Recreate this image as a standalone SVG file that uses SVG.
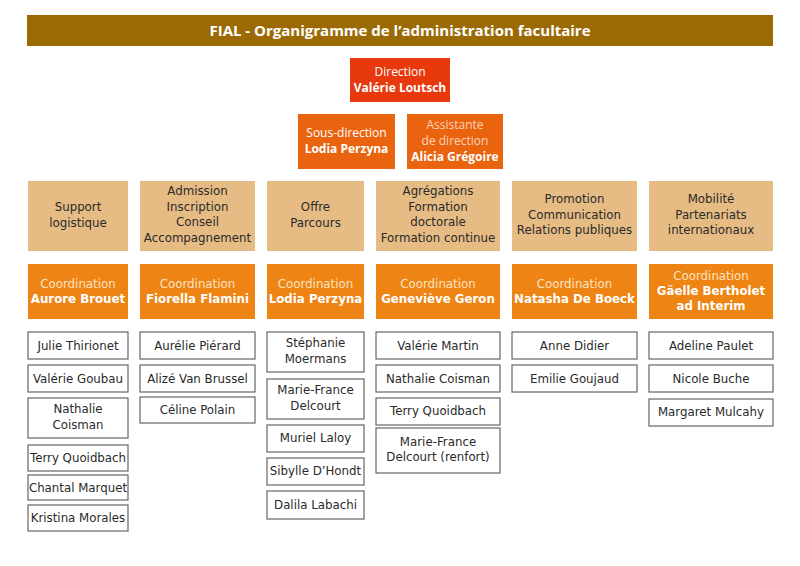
<svg xmlns="http://www.w3.org/2000/svg" width="800" height="566" viewBox="0 0 800 566">
<style>
.hdr{fill:#9b6a05}
.dir{fill:#e8390e}
.sub{fill:#ea630f}
.cat{fill:#e6bc84}
.coo{fill:#ee8413}
.per{fill:#fff;stroke:#666;stroke-width:1.2}
.top{font-family:"Open Sans","Liberation Sans",sans-serif;font-size:12px;text-anchor:middle;fill:#fff}
.topb{font-weight:bold}
.light{fill:#fcd3b8}
.t{font-family:"DejaVu Sans","Liberation Sans",sans-serif;font-size:11.8px;text-anchor:middle;fill:#2a2a2a}
.ct{font-family:"DejaVu Sans","Liberation Sans",sans-serif;font-size:11.8px;text-anchor:middle;fill:#fde3c4}
.cb{font-weight:bold;fill:#fff}
</style>
<rect width="800" height="566" fill="#fff"/>
<g id="header">
<rect class="hdr" x="27" y="15" width="746" height="31"/>
<text x="400" y="35.5" style="font-family:'Open Sans','Liberation Sans',sans-serif;font-size:15px;font-weight:bold;fill:#fff;text-anchor:middle">FIAL - Organigramme de l’administration facultaire</text>
</g>
<g id="direction">
<rect class="dir" x="350" y="58" width="100" height="44"/>
<text class="top" x="400" y="76">Direction</text>
<text class="top topb" x="400" y="92">Valérie Loutsch</text>
</g>
<g id="sous-direction">
<rect class="sub" x="298" y="114" width="97" height="55"/>
<text class="top" x="346.5" y="137">Sous-direction</text>
<text class="top topb" x="346.5" y="153">Lodia Perzyna</text>
</g>
<g id="assistante">
<rect class="sub" x="407" y="114" width="96" height="55"/>
<text class="top light" x="455" y="129">Assistante</text>
<text class="top light" x="455" y="145">de direction</text>
<text class="top topb" x="455" y="161">Alicia Grégoire</text>
</g>
<g id="cat1"><rect class="cat" x="28" y="181" width="100" height="70"/>
<text class="t" x="78" y="211">Support</text><text class="t" x="78" y="226.5">logistique</text></g>
<g id="cat2"><rect class="cat" x="140" y="181" width="115" height="70"/>
<text class="t" x="197.5" y="195">Admission</text><text class="t" x="197.5" y="210.7">Inscription</text><text class="t" x="197.5" y="226.4">Conseil</text><text class="t" x="197.5" y="242.1">Accompagnement</text></g>
<g id="cat3"><rect class="cat" x="267" y="181" width="97" height="70"/>
<text class="t" x="315.5" y="211">Offre</text><text class="t" x="315.5" y="226.5">Parcours</text></g>
<g id="cat4"><rect class="cat" x="376" y="181" width="124" height="70"/>
<text class="t" x="438" y="195">Agrégations</text><text class="t" x="438" y="210.7">Formation</text><text class="t" x="438" y="226.4">doctorale</text><text class="t" x="438" y="242.1">Formation continue</text></g>
<g id="cat5"><rect class="cat" x="512" y="181" width="125" height="70"/>
<text class="t" x="574.5" y="203">Promotion</text><text class="t" x="574.5" y="218.7">Communication</text><text class="t" x="574.5" y="234.4">Relations publiques</text></g>
<g id="cat6"><rect class="cat" x="649" y="181" width="124" height="70"/>
<text class="t" x="711" y="203">Mobilité</text><text class="t" x="711" y="218.7">Partenariats</text><text class="t" x="711" y="234.4">internationaux</text></g>
<g id="coord1"><rect class="coo" x="28" y="264" width="100" height="55"/>
<text class="ct" x="78" y="287.5">Coordination</text><text class="ct cb" x="78" y="303">Aurore Brouet</text></g>
<g id="coord2"><rect class="coo" x="140" y="264" width="115" height="55"/>
<text class="ct" x="197.5" y="287.5">Coordination</text><text class="ct cb" x="197.5" y="303">Fiorella Flamini</text></g>
<g id="coord3"><rect class="coo" x="267" y="264" width="97" height="55"/>
<text class="ct" x="315.5" y="287.5">Coordination</text><text class="ct cb" x="315.5" y="303">Lodia Perzyna</text></g>
<g id="coord4"><rect class="coo" x="376" y="264" width="124" height="55"/>
<text class="ct" x="438" y="287.5">Coordination</text><text class="ct cb" x="438" y="303">Geneviève Geron</text></g>
<g id="coord5"><rect class="coo" x="512" y="264" width="125" height="55"/>
<text class="ct" x="574.5" y="287.5">Coordination</text><text class="ct cb" x="574.5" y="303">Natasha De Boeck</text></g>
<g id="coord6"><rect class="coo" x="649" y="264" width="124" height="55"/>
<text class="ct" x="711" y="279.5">Coordination</text><text class="ct cb" x="711" y="295">Gäelle Bertholet</text><text class="ct cb" x="711" y="310.3">ad Interim</text></g>
<g id="p1-1"><rect class="per" x="28" y="332" width="100" height="27"/><text class="t" x="78" y="349.5">Julie Thirionet</text></g>
<g id="p1-2"><rect class="per" x="28" y="365" width="100" height="27"/><text class="t" x="78" y="382.5">Valérie Goubau</text></g>
<g id="p1-3"><rect class="per" x="28" y="398" width="100" height="40"/><text class="t" x="78" y="413">Nathalie</text><text class="t" x="78" y="428.5">Coisman</text></g>
<g id="p1-4"><rect class="per" x="28" y="445" width="100" height="26"/><text class="t" x="78" y="462">Terry Quoidbach</text></g>
<g id="p1-5"><rect class="per" x="28" y="475" width="100" height="25"/><text class="t" x="78" y="491.5">Chantal Marquet</text></g>
<g id="p1-6"><rect class="per" x="28" y="505" width="100" height="26"/><text class="t" x="78" y="522">Kristina Morales</text></g>
<g id="p2-1"><rect class="per" x="140" y="332" width="115" height="27"/><text class="t" x="197.5" y="349.5">Aurélie Piérard</text></g>
<g id="p2-2"><rect class="per" x="140" y="365" width="115" height="27"/><text class="t" x="197.5" y="382.5">Alizé Van Brussel</text></g>
<g id="p2-3"><rect class="per" x="140" y="397" width="115" height="26"/><text class="t" x="197.5" y="413.5">Céline Polain</text></g>
<g id="p3-1"><rect class="per" x="267" y="332" width="97" height="40"/><text class="t" x="315.5" y="347">Stéphanie</text><text class="t" x="315.5" y="362.5">Moermans</text></g>
<g id="p3-2"><rect class="per" x="267" y="379" width="97" height="40"/><text class="t" x="315.5" y="394">Marie-France</text><text class="t" x="315.5" y="409.5">Delcourt</text></g>
<g id="p3-3"><rect class="per" x="267" y="425" width="97" height="27"/><text class="t" x="315.5" y="442">Muriel Laloy</text></g>
<g id="p3-4"><rect class="per" x="267" y="458" width="97" height="27"/><text class="t" x="315.5" y="475">Sibylle D’Hondt</text></g>
<g id="p3-5"><rect class="per" x="267" y="491" width="97" height="28"/><text class="t" x="315.5" y="508.5">Dalila Labachi</text></g>
<g id="p4-1"><rect class="per" x="376" y="332" width="124" height="27"/><text class="t" x="438" y="349.5">Valérie Martin</text></g>
<g id="p4-2"><rect class="per" x="376" y="365" width="124" height="27"/><text class="t" x="438" y="382.5">Nathalie Coisman</text></g>
<g id="p4-3"><rect class="per" x="376" y="398" width="124" height="27"/><text class="t" x="438" y="415">Terry Quoidbach</text></g>
<g id="p4-4"><rect class="per" x="376" y="428" width="124" height="45"/><text class="t" x="438" y="445.5">Marie-France</text><text class="t" x="438" y="461">Delcourt (renfort)</text></g>
<g id="p5-1"><rect class="per" x="512" y="332" width="125" height="27"/><text class="t" x="574.5" y="349.5">Anne Didier</text></g>
<g id="p5-2"><rect class="per" x="512" y="365" width="125" height="27"/><text class="t" x="574.5" y="382.5">Emilie Goujaud</text></g>
<g id="p6-1"><rect class="per" x="649" y="332" width="124" height="27"/><text class="t" x="711" y="349.5">Adeline Paulet</text></g>
<g id="p6-2"><rect class="per" x="649" y="365" width="124" height="27"/><text class="t" x="711" y="382.5">Nicole Buche</text></g>
<g id="p6-3"><rect class="per" x="649" y="399" width="124" height="27"/><text class="t" x="711" y="416">Margaret Mulcahy</text></g>
<g id="connectors"></g>
</svg>
